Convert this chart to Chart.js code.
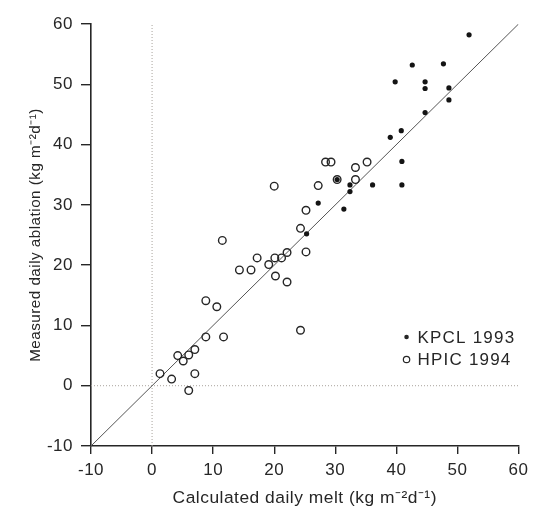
<!DOCTYPE html>
<html>
<head>
<meta charset="utf-8">
<script src="https://cdn.jsdelivr.net/npm/chart.js@4.4.0/dist/chart.umd.min.js"></script>
<style>
  html, body { margin: 0; padding: 0; background: #fff; }
  #wrap { width: 534px; height: 513px; position: relative; }
</style>
</head>
<body>
<div id="wrap"><canvas id="meltChart"></canvas></div>
<script>
'use strict';

// KPCL 1993 (filled dots): calculated daily melt vs measured daily ablation
var kpclMelt     = [51.9, 42.6, 47.7, 39.8, 44.7, 44.7, 48.6, 48.6, 44.7, 40.8, 39.0, 40.9, 40.9, 36.1, 32.4, 32.4, 30.3, 27.2, 31.4, 25.3];
var kpclAblation = [58.2, 53.2, 53.4, 50.4, 50.4, 49.3, 49.4, 47.4, 45.3, 42.3, 41.2, 37.2, 33.3, 33.3, 33.3, 32.2, 34.2, 30.3, 29.3, 25.2];

// HPIC 1994 (open circles)
var hpicMelt     = [1.3, 3.2, 4.2, 5.1, 6.0, 7.0, 7.0, 6.0, 8.8, 10.6, 8.8, 11.7, 11.5, 14.3, 16.2, 17.2, 19.1, 20.1, 21.2, 20.2, 22.1, 22.1, 20.0, 24.3, 25.2, 25.2, 24.3, 27.2, 28.4, 29.3, 30.3, 33.3, 33.3, 35.2];
var hpicAblation = [2.0, 1.1, 5.0, 4.1, 5.1, 6.0, 2.0, -0.8, 14.1, 13.1, 8.1, 8.1, 24.1, 19.2, 19.2, 21.2, 20.1, 21.2, 21.2, 18.2, 22.1, 17.2, 33.1, 26.1, 29.1, 22.2, 9.2, 33.2, 37.1, 37.1, 34.2, 34.2, 36.2, 37.1];

var seriesLabels = ['KPCL 1993', 'HPIC 1994'];
var axisTicks = [-10, 0, 10, 20, 30, 40, 50, 60];
var axisMin = axisTicks[0];
var axisMax = axisTicks[axisTicks.length - 1];

function pairUp(xs, ys) {
  var pts = [];
  for (var i = 0; i < xs.length; i++) {
    pts.push({ x: xs[i], y: ys[i] });
  }
  return pts;
}

var ink = '#262626';
var fontFamily = '"Liberation Sans", Arial, Helvetica, sans-serif';
Chart.defaults.font.family = fontFamily;
Chart.defaults.color = ink;

// small legend drawn inside the plot, bottom right
var insideLegend = {
  id: 'insideLegend',
  afterDatasetsDraw: function (chart) {
    var ctx = chart.ctx;
    var area = chart.chartArea;
    var x0 = area.right - 112;
    var y0 = area.top + 313;
    ctx.save();
    ctx.letterSpacing = '1.2px';
    ctx.font = '17px ' + fontFamily;
    ctx.textBaseline = 'middle';
    ctx.fillStyle = ink;
    ctx.strokeStyle = ink;
    for (var i = 0; i < seriesLabels.length; i++) {
      var y = y0 + i * 22.5;
      ctx.beginPath();
      if (i === 0) {
        ctx.arc(x0, y, 2.3, 0, Math.PI * 2);
        ctx.fill();
      } else {
        ctx.arc(x0, y, 3.2, 0, Math.PI * 2);
        ctx.lineWidth = 1.2;
        ctx.stroke();
      }
      ctx.fillText(seriesLabels[i], x0 + 11, y + 1);
    }
    ctx.restore();
  }
};

var spacing = {
  id: 'spacing',
  beforeDraw: function (chart) {
    chart.ctx.letterSpacing = '0.5px';
  }
};

var axisStyle = function (titleText, isX) {
  return {
    type: 'linear',
    min: axisMin,
    max: axisMax,
    ticks: {
      stepSize: 10,
      padding: isX ? 6 : 8,
      color: ink,
      font: { size: 17 }
    },
    grid: {
      drawOnChartArea: false,
      drawTicks: true,
      tickLength: isX ? 8 : 10,
      color: ink,
      lineWidth: 1.4
    },
    border: { display: true, color: ink, width: 1.6 },
    title: {
      display: true,
      text: titleText,
      color: ink,
      font: { size: isX ? 17.4 : 15.2 },
      padding: isX ? { top: 0, bottom: 4.5 } : { top: 27, bottom: 0 }
    },
    afterFit: function (scale) {
      if (isX) { scale.height = 67; } else { scale.width = 91; }
    }
  };
};

var ctx = document.getElementById('meltChart').getContext('2d');
var meltChart = new Chart(ctx, {
  type: 'scatter',
  data: {
    datasets: [
      {
        label: seriesLabels[0],
        data: pairUp(kpclMelt, kpclAblation),
        pointRadius: 2.6,
        pointBackgroundColor: '#141414',
        pointBorderWidth: 0,
        order: 1
      },
      {
        label: seriesLabels[1],
        data: pairUp(hpicMelt, hpicAblation),
        pointRadius: 3.8,
        pointBackgroundColor: 'rgba(0,0,0,0)',
        pointBorderColor: '#262626',
        pointBorderWidth: 1.4,
        order: 2
      },
      {
        label: '1:1',
        data: pairUp([axisMin, axisMax], [axisMin, axisMax]),
        showLine: true,
        borderColor: '#555',
        borderWidth: 1,
        pointRadius: 0,
        order: 3
      },
      {
        label: 'x = 0',
        data: pairUp([0, 0], [axisMin, axisMax]),
        showLine: true,
        borderColor: '#a9a39c',
        borderWidth: 1,
        borderDash: [1, 2],
        pointRadius: 0,
        order: 4
      },
      {
        label: 'y = 0',
        data: pairUp([axisMin, axisMax], [0, 0]),
        showLine: true,
        borderColor: '#a9a39c',
        borderWidth: 1,
        borderDash: [1, 2],
        pointRadius: 0,
        order: 4
      }
    ]
  },
  options: {
    responsive: true,
    maintainAspectRatio: false,
    animation: false,
    layout: { padding: { top: 24, right: 13, bottom: 0, left: 0 } },
    plugins: {
      legend: { display: false },
      tooltip: { enabled: false }
    },
    scales: {
      x: axisStyle('Calculated daily melt (kg m\u207B\u00B2d\u207B\u00B9)', true),
      y: axisStyle('Measured daily ablation (kg m\u207B\u00B2d\u207B\u00B9)', false)
    }
  },
  plugins: [spacing, insideLegend]
});
</script>
</body>
</html>
